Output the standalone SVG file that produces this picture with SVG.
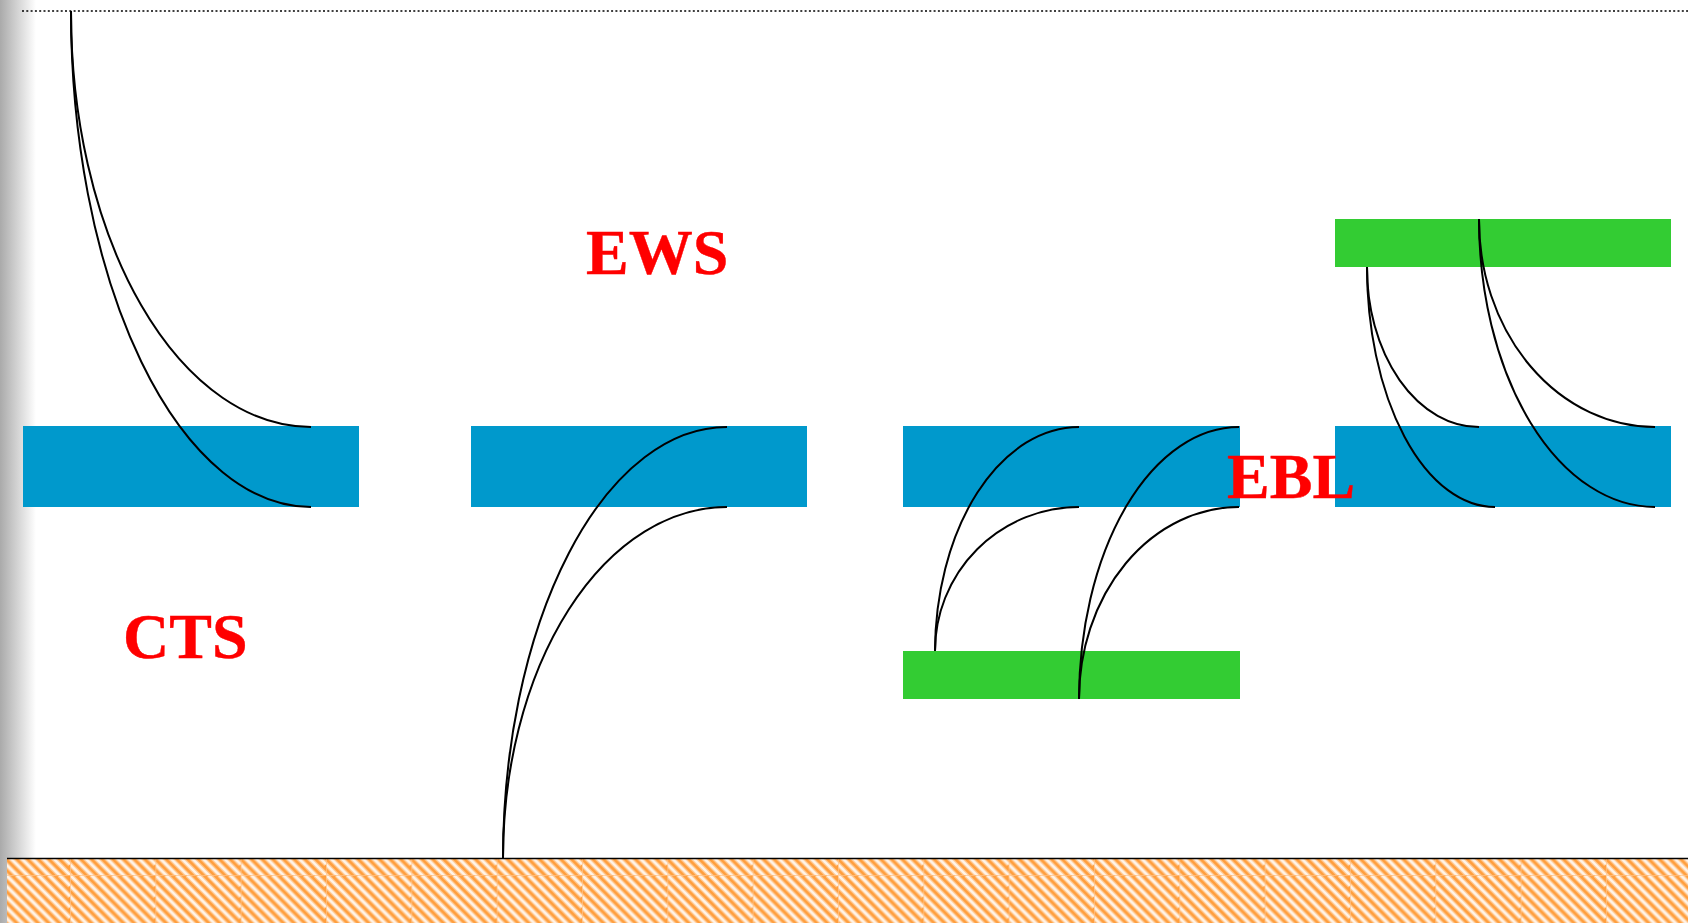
<svg xmlns="http://www.w3.org/2000/svg" width="1693" height="923" viewBox="0 0 1693 923">
<style>
.blue{fill:#0099cc}
.green{fill:#33cc33}
.wire{fill:none;stroke:#000;stroke-width:2}
.lbl{font-family:"Liberation Serif",serif;font-weight:bold;font-size:64px;fill:#ff0000;stroke:#ff0000;stroke-width:.4}
</style>
<defs>
<linearGradient id="edge" x1="0" x2="1" y1="0" y2="0"><stop offset="0" stop-color="#aaaaaa"/><stop offset="1" stop-color="#ffffff"/></linearGradient>
<pattern id="hatch" patternUnits="userSpaceOnUse" x="70" y="875" width="85.33" height="85.33">
<rect width="85.33" height="85.33" fill="#ff9e3d"/>
<g fill="none" stroke="#fff" opacity=".45" stroke-width="5"><path id="st" d="M-85.33 0L85.33 170.66M-74.66 0L85.33 159.99M-63.99 0L85.33 149.32M-53.32 0L85.33 138.65M-42.65 0L85.33 127.98M-31.98 0L85.33 117.31M-21.31 0L85.33 106.64M-10.64 0L85.33 95.97M.03 0L85.33 85.3M10.7 0L85.33 74.63M21.37 0L85.33 63.96M32.04 0L85.33 53.29M42.71 0L85.33 42.62M53.38 0L85.33 31.95M64.05 0L85.33 21.28M74.72 0L85.33 10.61"/></g>
<g fill="none" stroke="#fff" opacity=".8" stroke-width="2.500"><use href="#st"/></g>
<path d="M.5 0V85.33M0 .5H85.33" stroke="#ffc48a" stroke-width="1" fill="none" opacity=".7"/>
</pattern>
</defs>
<rect width="1693" height="923" fill="#fff"/>
<rect x="0" y="0" width="36" height="923" fill="url(#edge)"/>
<path d="M22 11H1688" stroke="#000" stroke-width="1.500" stroke-dasharray="2 2.300" fill="none"/>
<rect id="ground" x="7" y="858" width="1681" height="65" fill="url(#hatch)"/>
<path d="M7 858.500H1688" stroke="#000" stroke-width="1.500"/>
<g id="b1"><rect class="blue" x="23" y="426" width="336" height="81"/></g>
<g id="b2"><rect class="blue" x="471" y="426" width="336" height="81"/></g>
<g id="b3"><rect class="blue" x="903" y="426" width="337" height="81"/></g>
<g id="b4"><rect class="blue" x="1335" y="426" width="336" height="81"/></g>
<g id="g1"><rect class="green" x="903" y="651" width="337" height="48"/></g>
<g id="g2"><rect class="green" x="1335" y="219" width="336" height="48"/></g>
<g id="connectors">
<path class="wire" d="M71 11A240 415 0 0 0 311 427"/>
<path class="wire" d="M71 11A240 496 0 0 0 311 507"/>
<path class="wire" d="M503 858A224 432 0 0 1 727 427"/>
<path class="wire" d="M503 858A224 351 0 0 1 727 507"/>
<path class="wire" d="M935 651A144 225 0 0 1 1079 427"/>
<path class="wire" d="M935 651A144 144 0 0 1 1079 507"/>
<path class="wire" d="M1079 699A160 273 0 0 1 1239 427"/>
<path class="wire" d="M1079 699A160 192 0 0 1 1239 507"/>
<path class="wire" d="M1367 267A112 159 0 0 0 1479 427"/>
<path class="wire" d="M1367 267A128 240 0 0 0 1495 507"/>
<path class="wire" d="M1479 219A176 207 0 0 0 1655 427"/>
<path class="wire" d="M1479 219A176 288 0 0 0 1655 507"/>
</g>
<text class="lbl" x="586" y="273.500">EWS</text>
<text class="lbl" x="123" y="657.500">CTS</text>
<text class="lbl" x="1227" y="497.500">EBL</text>
</svg>
